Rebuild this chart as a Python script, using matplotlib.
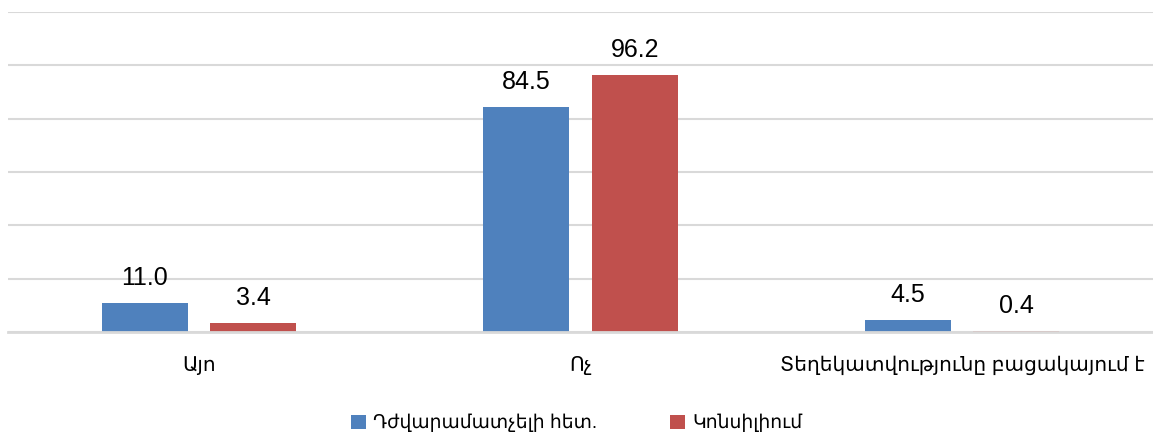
import matplotlib.pyplot as plt
import numpy as np

# Data
categories = ["Այո", "Ոչ", "Տեղեկատվությունը բացակայում է"]
series_names = ["Դժվարամատչելի հետ.", "Կոնսիլիում"]
hard_access = [11.0, 84.5, 4.5]
consilium = [3.4, 96.2, 0.4]

plt.rcParams["font.family"] = ["Liberation Sans", "Noto Sans", "DejaVu Sans"]

fig = plt.figure(figsize=(11.53, 4.37), dpi=100)
ax = fig.add_axes([8 / 1153, 105 / 437, 1 - 8 / 1153, 320 / 437])

x = np.arange(len(categories))
w = 0.225
off = 0.142
bars1 = ax.bar(x - off, hard_access, w, color="#4F81BD", label=series_names[0])
bars2 = ax.bar(x + off, consilium, w, color="#C0504D", label=series_names[1])

# value labels above bars
for bars in (bars1, bars2):
    for b in bars:
        ax.annotate(f"{b.get_height():.1f}", (b.get_x() + b.get_width() / 2, b.get_height()),
                    xytext=(0, 13), textcoords="offset points",
                    ha="center", va="baseline", fontsize=18, color="#000000")

ax.set_xlim(-0.5, 2.5)
ax.set_ylim(0, 120)
ax.set_yticks(np.arange(0, 121, 20))
ax.yaxis.grid(True, color="#d9d9d9", linewidth=1.5)
ax.set_axisbelow(True)
ax.tick_params(axis="y", left=False, labelleft=False)
ax.tick_params(axis="x", length=0, pad=17, labelsize=14.5)
ax.set_xticks(x)
ax.set_xticklabels(categories)
for s in ["top", "right", "left"]:
    ax.spines[s].set_visible(False)
ax.spines["bottom"].set_color("#d9d9d9")
ax.spines["bottom"].set_linewidth(2)

fig.legend(loc="center", bbox_to_anchor=(0.5, 0.032), ncol=2, frameon=False,
           fontsize=13.5, handlelength=0.8, handleheight=0.8, handletextpad=0.37,
           columnspacing=3.9)

fig.savefig("out.png", dpi=100)
